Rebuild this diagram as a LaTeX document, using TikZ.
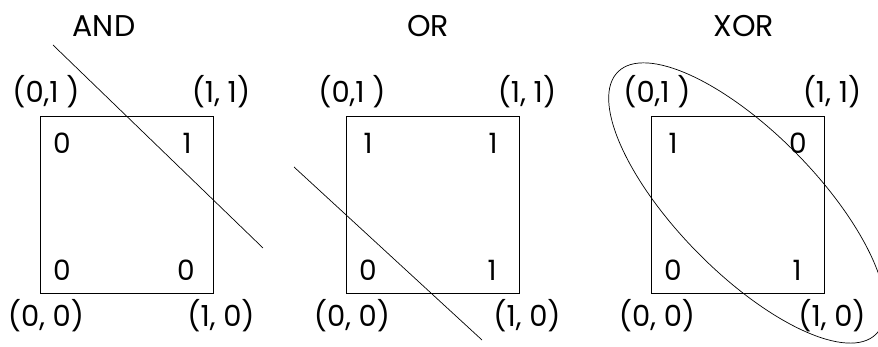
\documentclass[tikz,border=0pt]{standalone}
\usepackage{fontspec}
\setmainfont{Poppins}
\begin{document}
\begin{tikzpicture}[x=1pt,y=-1pt,
  thinline/.style={line width=0.7pt},
  title/.style={font=\fontsize{30}{34}\selectfont, inner sep=0pt},
  corner/.style={font=\fontsize{29}{33}\selectfont, inner sep=0pt},
  val/.style={font=\fontsize{28}{32}\selectfont, inner sep=0pt}]
\useasboundingbox (0,0) rectangle (878,347);
% titles
\node[title] (tAND) at (104,26) {AND};
\node[title] (tOR) at (428,26) {OR};
\node[title] (tXOR) at (744,26) {XOR};
% boxes
\foreach \L/\n/\a/\b/\c/\d in {40/A/0/1/0/0, 346/B/1/1/0/1, 651/C/1/0/0/1}{
  \draw[thinline] (\L,116) rectangle ++(173.3,177);
  \node[corner] (tl\n) at (\L+6,92) {(0,1 )};
  \node[corner] (tr\n) at (\L+181,92) {(1, 1)};
  \node[corner] (bl\n) at (\L+6,316) {(0, 0)};
  \node[corner] (br\n) at (\L+181,316) {(1, 0)};
  \node[val] (v01\n) at (\L+22,143) {\a};
  \node[val] (v11\n) at (\L+147,143) {\b};
  \node[val] (v00\n) at (\L+22,270) {\c};
  \node[val] (v10\n) at (\L+146,270) {\d};
}
% separating lines
\coordinate (a1) at (53,45);
\coordinate (a2) at (263,248);
\draw[thinline] (a1) -- (a2);
\coordinate (o1) at (294,167);
\coordinate (o2) at (482,340);
\draw[thinline] (o1) -- (o2);
% XOR ellipse
\coordinate (xc) at (747,203);
\draw[thinline, rotate around={-45.5:(xc)}] (xc) ellipse [x radius=184, y radius=70];
\end{tikzpicture}
\end{document}
